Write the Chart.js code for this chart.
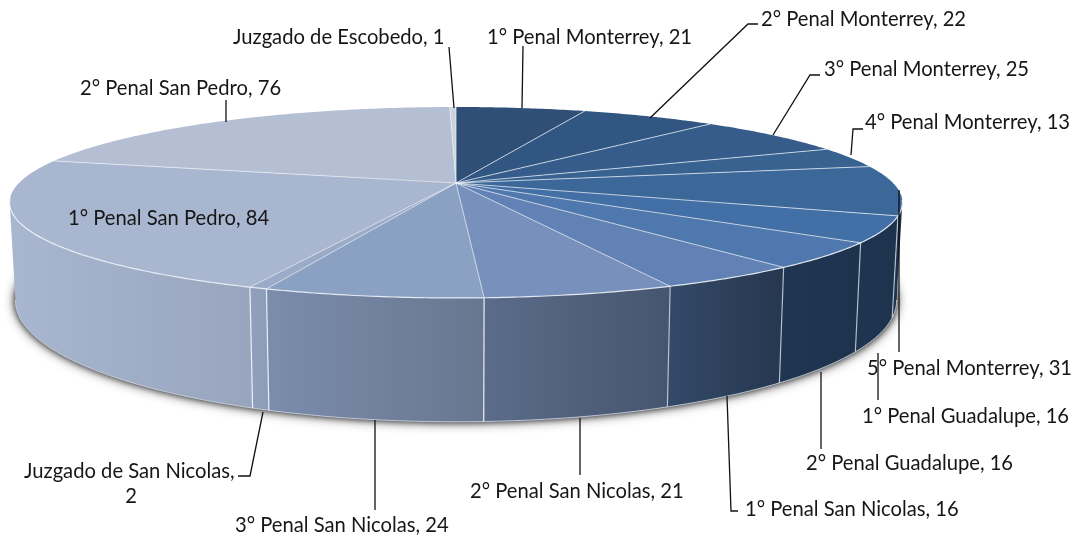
<!DOCTYPE html>
<html><head><meta charset="utf-8">
<style>html,body{margin:0;padding:0;background:#fff}canvas{display:block}</style>
<script src="https://cdn.jsdelivr.net/npm/chart.js@4"></script>
</head><body><canvas id="c" width="1078" height="537"></canvas>
<script>
const categories=["1° Penal Monterrey","2° Penal Monterrey","3° Penal Monterrey","4° Penal Monterrey","5° Penal Monterrey","1° Penal Guadalupe","2° Penal Guadalupe","1° Penal San Nicolas","2° Penal San Nicolas","3° Penal San Nicolas","Juzgado de San Nicolas","1° Penal San Pedro","2° Penal San Pedro","Juzgado de Escobedo"];
const values=[21,22,25,13,31,16,16,16,21,24,2,84,76,1];
const topColors=["#2f4f76","#325682","#355c8a","#386290","#3c6899","#426fa6","#4f78ae","#6282b6","#7791bc","#8ba1c3","#9aabc9","#a9b6cf","#b5bfd4","#ccd2df"];
const wallStart=["#1a2f4a","#1a2f4a","#1a2f4a","#1a2f4a","#1d3450","#1e3551","#1f3652","#344a69","#5b6c8a","#7b8cac","#8f9fbd","#a8b6d0","#a8b6d0","#a8b6d0"];
const wallEnd=["#1a2f4a","#1a2f4a","#1a2f4a","#1a2f4a","#1a2e48","#1d324d","#1d324d","#26374f","#46556f","#687790","#8d9cb8","#98a5bd","#a8b6d0","#a8b6d0"];
// label text anchor [left x, middle y], then leader-line points
const labelLayout=[
 {x:487,y:37,line:[[523,46],[522,108]]},
 {x:761,y:19,line:[[758,24],[748,24],[650,118]]},
 {x:824,y:69,line:[[820,75],[810,75],[773,135]]},
 {x:865,y:122,line:[[863,129],[853,129],[851,155]]},
 {x:867,y:368,line:[[899,190],[899,352]]},
 {x:862,y:416,line:[[878,400],[878,353]]},
 {x:806,y:463,line:[[821,449],[821,372]]},
 {x:745,y:509,line:[[738,511],[731,511],[727,396]]},
 {x:470,y:491,line:[[580,475],[580,418]]},
 {x:235,y:525,line:[[375,510],[375,420]]},
 {x:24,y:471,wrap:131,wrapY:496,line:[[238,476],[250,476],[263,412]]},
 {x:68,y:218,line:[]},
 {x:80,y:88,line:[[226,100],[226,122]]},
 {x:233,y:37,line:[[449,47],[454,108]]}
];
const cx=456,cy=183,A=437,B=91.5,K=0.204,SX=0.987,SY=1.268,DY=93;
function rim(t,bottom){
  const u=Math.sin(t),v=-Math.cos(t),d=1-K*v;
  let X=A*u/d,Y=B*v/d;
  if(bottom){X*=SX;Y=Y*SY+DY;}
  return [cx+X,cy+Y];
}
function arcPts(t0,t1,bottom){
  const n=Math.max(2,Math.ceil(Math.abs(t1-t0)/0.01)),p=[];
  for(let i=0;i<=n;i++)p.push(rim(t0+(t1-t0)*i/n,bottom));
  return p;
}
function trace(ctx,pts){pts.forEach((p,i)=>i?ctx.lineTo(p[0],p[1]):ctx.moveTo(p[0],p[1]));}
function trace2(ctx,pts){pts.forEach(p=>ctx.lineTo(p[0],p[1]));}
const pie3d={
  id:'pie3d',
  beforeDatasetDraw(chart){
    const ctx=chart.ctx,arcs=chart.getDatasetMeta(0).data;
    const ang=arcs.map(a=>[a.startAngle+Math.PI/2,a.endAngle+Math.PI/2]);
    ctx.save();
    // soft shadow under the drum
    ctx.save();
    ctx.fillStyle='#8a8a8a';
    [[12,'rgba(0,0,0,0.8)'],[6,'rgba(0,0,0,0.6)']].forEach(s=>{
      ctx.shadowBlur=s[0];ctx.shadowColor=s[1];
      ctx.beginPath();trace(ctx,arcPts(0,Math.PI*2,true));ctx.closePath();ctx.fill();
    });
    ctx.restore();
    // side walls
    const lo=1.77,hi=Math.PI*2-1.77;
    ang.forEach((a,i)=>{
      const t0=Math.max(a[0],lo),t1=Math.min(a[1],hi);
      if(t1<=t0)return;
      const up=arcPts(t0,t1,false),dn=arcPts(t0,t1,true).reverse();
      const xs=up.concat(dn).map(p=>p[0]);
      const g=ctx.createLinearGradient(Math.min(...xs),0,Math.max(...xs),0);
      g.addColorStop(0,wallStart[i]);
      g.addColorStop(1,wallEnd[i]);
      ctx.fillStyle=g;
      ctx.beginPath();trace(ctx,up.concat(dn));ctx.closePath();ctx.fill();
    });
    // lit bottom edge
    ctx.strokeStyle='rgba(205,212,224,0.85)';ctx.lineWidth=1;
    ctx.beginPath();trace(ctx,arcPts(lo,hi,true));ctx.stroke();
    // wall separators
    ang.forEach((a,i)=>{
      const t=a[1];
      if(t<1.7||t>4.6)return;
      const p=rim(t,false),q=rim(t,true);
      ctx.strokeStyle=i<8?'rgba(220,228,238,0.75)':'rgba(240,244,250,0.95)';
      ctx.lineWidth=1.2;
      ctx.beginPath();ctx.moveTo(p[0],p[1]);ctx.lineTo(q[0],q[1]);ctx.stroke();
    });
    // top faces
    arcs.forEach((arc,i)=>{
      ctx.beginPath();ctx.moveTo(cx,cy);trace2(ctx,arcPts(ang[i][0],ang[i][1],false));ctx.closePath();
      ctx.fillStyle=topColors[i];ctx.fill();
    });
    arcs.forEach((arc,i)=>{
      const e=rim(ang[i][1],false);
      ctx.strokeStyle='rgba(236,241,248,0.72)';ctx.lineWidth=1;
      ctx.beginPath();ctx.moveTo(cx,cy);ctx.lineTo(e[0],e[1]);ctx.stroke();
    });
    // lit front rim
    ctx.strokeStyle='rgba(240,244,250,0.9)';ctx.lineWidth=1.2;
    ctx.beginPath();trace(ctx,arcPts(1.75,Math.PI*2-1.72,false));ctx.stroke();
    // leaders and labels
    ctx.strokeStyle='#111';ctx.lineWidth=1.3;ctx.fillStyle='#161616';
    ctx.font='20.2px Lato';ctx.textBaseline='middle';ctx.textAlign='left';
    categories.forEach((c,i)=>{
      const L=labelLayout[i];
      if(L.line.length){ctx.beginPath();trace(ctx,L.line);ctx.stroke();}
      if(L.wrap){
        ctx.fillText(c+',',L.x,L.y);
        ctx.textAlign='center';ctx.fillText(String(values[i]),L.wrap,L.wrapY);ctx.textAlign='left';
      }else ctx.fillText(c+', '+values[i],L.x,L.y);
    });
    ctx.restore();
    return false;
  }
};
new Chart(document.getElementById('c'),{
  type:'pie',
  data:{labels:categories,datasets:[{data:values,backgroundColor:topColors,borderWidth:0}]},
  options:{responsive:false,animation:false,layout:{padding:0},events:[],plugins:{legend:{display:false},tooltip:{enabled:false}}},
  plugins:[pie3d]
});
</script></body></html>
